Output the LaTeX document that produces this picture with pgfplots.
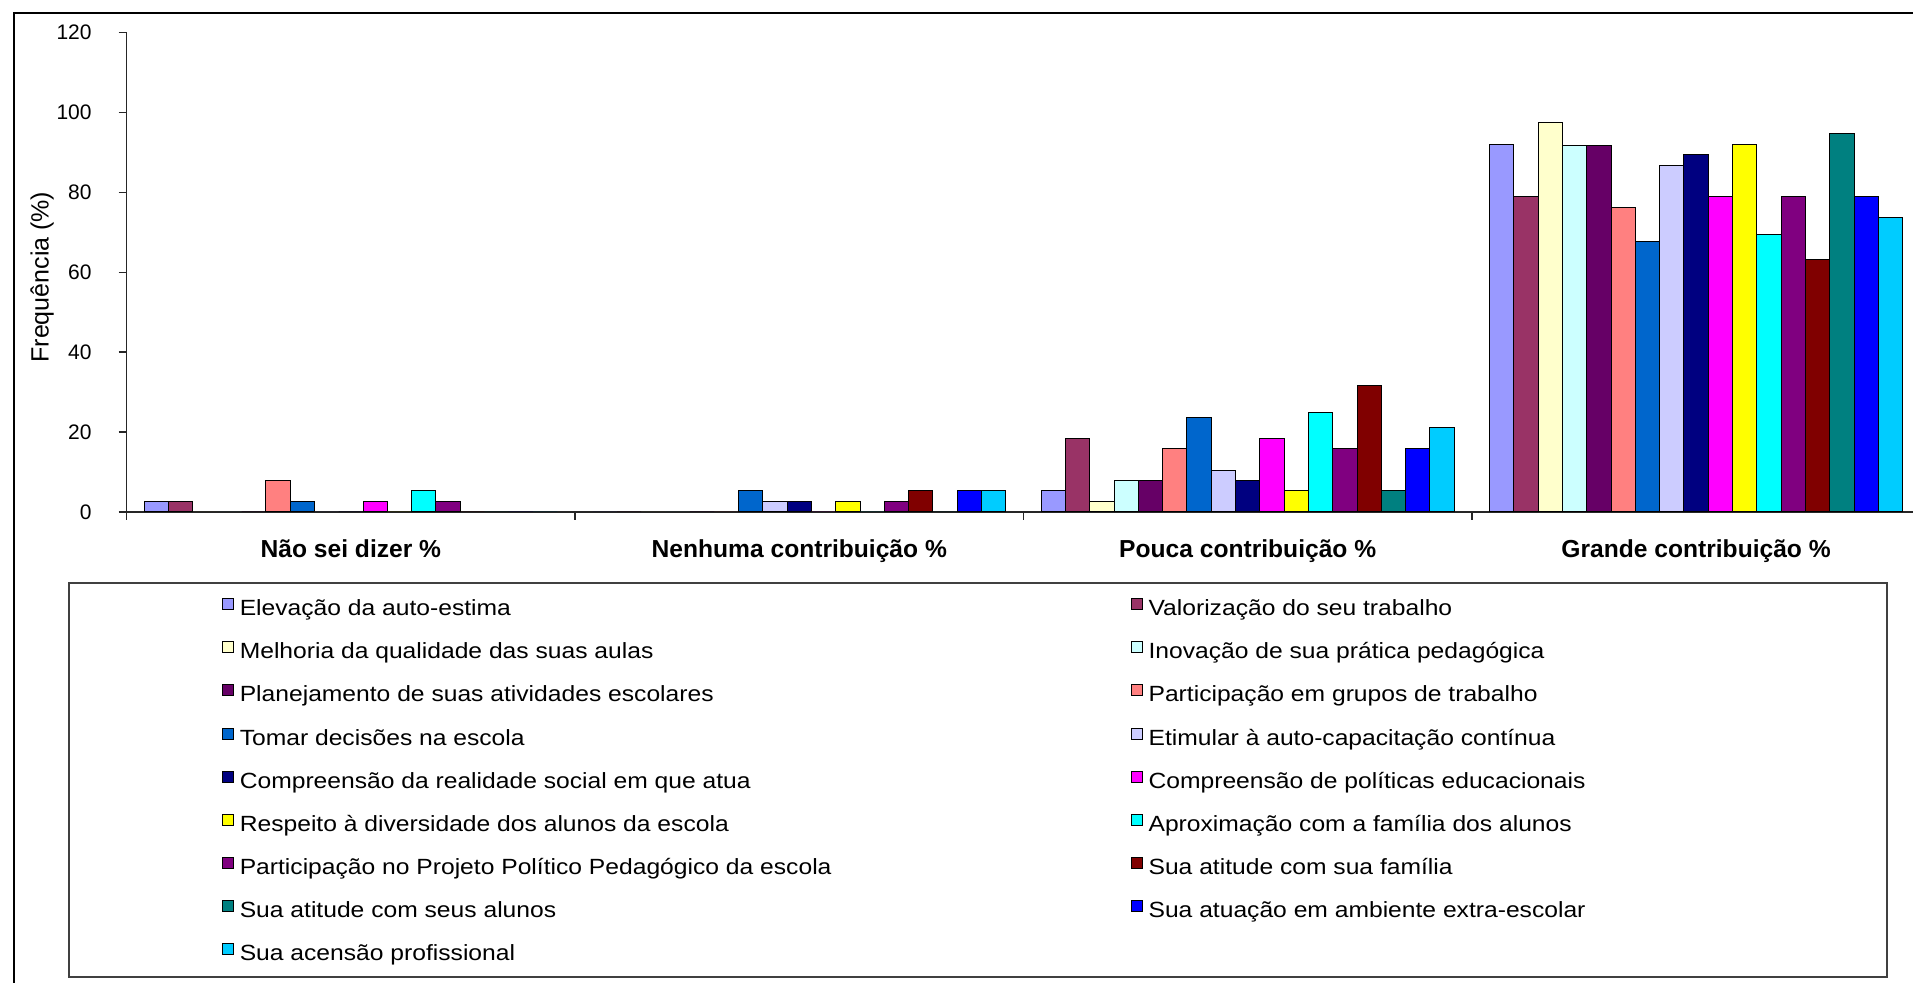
\documentclass[border=0pt]{standalone}
\usepackage{fontspec}
\setmainfont{Liberation Sans}
\newfontfamily\legfont{Liberation Sans}[FakeStretch=1.12]
\usepackage{pgfplots}
\usepackage{pgfplotstable}
\pgfplotsset{compat=1.18}

% Excel 2003 palette
\definecolor{c1}{HTML}{9999FF}
\definecolor{c2}{HTML}{993366}
\definecolor{c3}{HTML}{FFFFCC}
\definecolor{c4}{HTML}{CCFFFF}
\definecolor{c5}{HTML}{660066}
\definecolor{c6}{HTML}{FF8080}
\definecolor{c7}{HTML}{0066CC}
\definecolor{c8}{HTML}{CCCCFF}
\definecolor{c9}{HTML}{000080}
\definecolor{c10}{HTML}{FF00FF}
\definecolor{c11}{HTML}{FFFF00}
\definecolor{c12}{HTML}{00FFFF}
\definecolor{c13}{HTML}{800080}
\definecolor{c14}{HTML}{800000}
\definecolor{c15}{HTML}{008080}
\definecolor{c16}{HTML}{0000FF}
\definecolor{c17}{HTML}{00CCFF}

% categories: 0 Nao sei dizer, 1 Nenhuma, 2 Pouca, 3 Grande
\pgfplotstableread{
x s1 s2 s3 s4 s5 s6 s7 s8 s9 s10 s11 s12 s13 s14 s15 s16 s17
0 2.6 2.6 0 0 0 7.9 2.6 0 0 2.6 0 5.3 2.6 0 0 0 0
1 0 0 0 0 0 0 5.3 2.6 2.6 0 2.6 0 2.6 5.3 0 5.3 5.3
2 5.3 18.4 2.6 7.9 7.9 15.8 23.7 10.5 7.9 18.4 5.3 24.9 15.8 31.6 5.3 15.8 21.1
3 92.1 78.9 97.4 91.7 91.7 76.3 67.6 86.8 89.5 78.9 92.1 69.4 78.9 63.2 94.7 78.9 73.7
}\freq

\pgfplotsset{
  ybar legend/.style={legend image code/.code={
    \draw[##1,draw=black,line width=0.4pt] (0pt,0.3pt) rectangle (5.5pt,5.8pt);}},
  bars/.style={fill=#1, draw=black, line width=0.5pt},
}
\newcommand{\leg}[1]{\addlegendentry{\makebox[442.5pt][l]{#1}}}

\begin{document}
\begin{tikzpicture}
\useasboundingbox (0,0) rectangle (956.5pt,491.5pt);
\draw[line width=1pt] (7pt,-20pt) rectangle (980pt,485.15pt);
\draw[line width=0.8pt, draw=black!75] (34.5pt,3pt) rectangle (943.5pt,200pt);
\begin{axis}[
    at={(63.35pt,235.5pt)}, anchor=south west,
    scale only axis, width=896.8pt, height=239.65pt,
    xmin=-0.5, xmax=3.5, ymin=0, ymax=120,
    enlargelimits=false,
    axis x line*=bottom, axis y line*=left,
    axis line style={-, line width=0.8pt, black!85},
    ybar=0pt, bar width=12.15pt,
    ytick={0,20,...,120},
    xtick={0,1,2,3},
    xticklabels={Não sei dizer \%, Nenhuma contribuição \%, Pouca contribuição \%, Grande contribuição \%},
    minor xtick={-0.5,0.5,1.5,2.5,3.5},
    tick align=outside,
    major tick length=4pt, minor tick length=4pt,
    major x tick style={draw=none},
    minor x tick style={line width=0.8pt, black!85},
    ytick style={line width=0.8pt, black!85},
    /pgf/number format/assume math mode=true,
    xticklabel style={font=\bfseries\fontsize{12.3}{14}\selectfont, anchor=base, yshift=-19pt},
    yticklabel style={font=\fontsize{10.5}{12}\selectfont, anchor=east, inner sep=0pt, xshift=-13.35pt},
    ylabel={Frequência (\%)},
    ylabel style={at={(axis description cs:-0.0472,0.49)}, anchor=center, font=\fontsize{12.5}{14}\selectfont},
    legend columns=2,
    legend cell align=left,
    legend style={at={(axis description cs:0.05313,-0.18005)}, anchor=north west,
      draw=none, fill=none, inner sep=0pt, outer sep=0pt,
      row sep=10.3pt, column sep=3pt,
      nodes={inner sep=0pt, text height=8pt, text depth=2.5pt,
        font=\legfont\fontsize{11}{13}\selectfont}},
]
\addplot[bars=c1] table[x=x,y=s1] {\freq};
\leg{Elevação da auto-estima}
\addplot[bars=c2] table[x=x,y=s2] {\freq};
\leg{Valorização do seu trabalho}
\addplot[bars=c3] table[x=x,y=s3] {\freq};
\leg{Melhoria da qualidade das suas aulas}
\addplot[bars=c4] table[x=x,y=s4] {\freq};
\leg{Inovação de sua prática pedagógica}
\addplot[bars=c5] table[x=x,y=s5] {\freq};
\leg{Planejamento de suas atividades escolares}
\addplot[bars=c6] table[x=x,y=s6] {\freq};
\leg{Participação em grupos de trabalho}
\addplot[bars=c7] table[x=x,y=s7] {\freq};
\leg{Tomar decisões na escola}
\addplot[bars=c8] table[x=x,y=s8] {\freq};
\leg{Etimular à auto-capacitação contínua}
\addplot[bars=c9] table[x=x,y=s9] {\freq};
\leg{Compreensão da realidade social em que atua}
\addplot[bars=c10] table[x=x,y=s10] {\freq};
\leg{Compreensão de políticas educacionais}
\addplot[bars=c11] table[x=x,y=s11] {\freq};
\leg{Respeito à diversidade dos alunos da escola}
\addplot[bars=c12] table[x=x,y=s12] {\freq};
\leg{Aproximação com a família dos alunos}
\addplot[bars=c13] table[x=x,y=s13] {\freq};
\leg{Participação no Projeto Político Pedagógico da escola}
\addplot[bars=c14] table[x=x,y=s14] {\freq};
\leg{Sua atitude com sua família}
\addplot[bars=c15] table[x=x,y=s15] {\freq};
\leg{Sua atitude com seus alunos}
\addplot[bars=c16] table[x=x,y=s16] {\freq};
\leg{Sua atuação em ambiente extra-escolar}
\addplot[bars=c17] table[x=x,y=s17] {\freq};
\leg{Sua acensão profissional}
\end{axis}
\end{tikzpicture}
\end{document}
